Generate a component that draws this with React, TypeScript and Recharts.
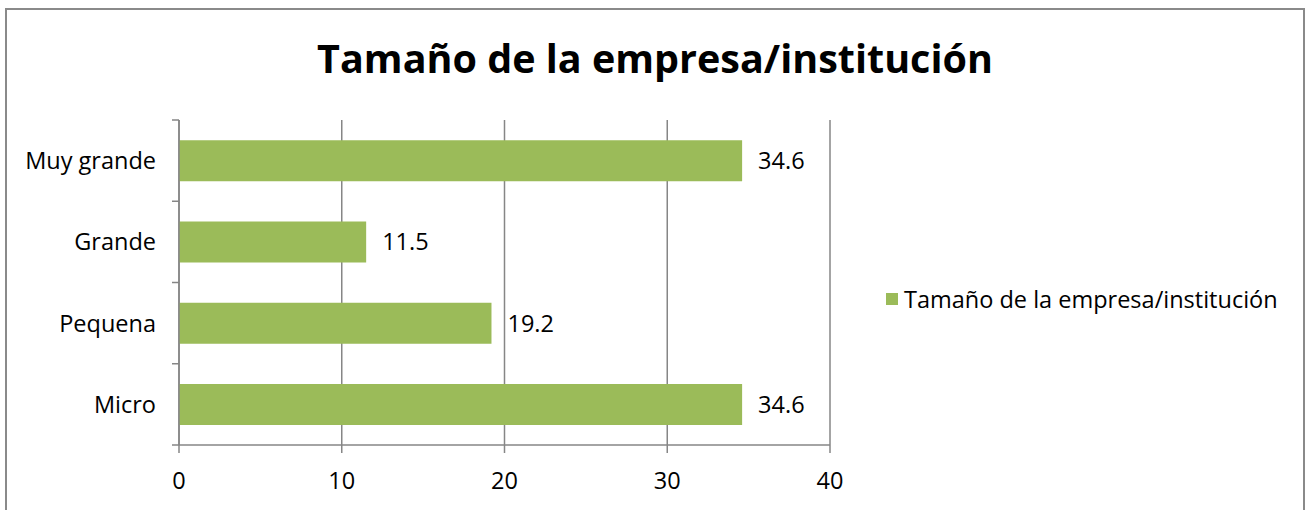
import React from 'react';
import { BarChart, Bar, XAxis, YAxis, CartesianGrid, Legend, LabelList } from 'recharts';

const categories = ['Muy grande', 'Grande', 'Pequena', 'Micro'];
const values = [34.6, 11.5, 19.2, 34.6];
const xTicks = [0, 10, 20, 30, 40];
const seriesName = 'Tamaño de la empresa/institución';
const titleText = 'Tamaño de la empresa/institución';

const data = categories.map((c, i) => ({ name: c, value: values[i] }));

const FONT = '"Open Sans", sans-serif';
const GRAY = '#868686';
const GREEN = '#9BBB59';
const Y_TICK_SIZE = 7;
const Y_TICK_MARGIN = 16;
const FS = 23.5;

const CategoryTick = (props: any) => {
  const { x, y, payload, index, visibleTicksCount } = props;
  const off = payload && payload.offset ? payload.offset : 0;
  const x1 = x + Y_TICK_MARGIN;
  const x2 = x1 + Y_TICK_SIZE;
  return (
    <g>
      <line x1={x1} x2={x2} y1={y - off} y2={y - off} stroke={GRAY} strokeWidth={1.5} />
      {index === visibleTicksCount - 1 ? (
        <line x1={x1} x2={x2} y1={y + off} y2={y + off} stroke={GRAY} strokeWidth={1.5} />
      ) : null}
      <text x={x} y={y} dy="0.36em" textAnchor="end" fontFamily={FONT} fontSize={FS} fill="#000">
        {payload.value}
      </text>
    </g>
  );
};

const LegendContent = (props: any) => {
  const { payload } = props;
  return (
    <div style={{ fontFamily: FONT, fontSize: FS, color: '#000', whiteSpace: 'nowrap' }}>
      {(payload || []).map((p: any, i: number) => (
        <div key={i} style={{ display: 'flex', alignItems: 'center' }}>
          <span style={{ display: 'inline-block', width: 12, height: 12, background: p.color, marginRight: 6 }} />
          <span>{p.value}</span>
        </div>
      ))}
    </div>
  );
};

export default function App() {
  return (
    <div style={{ position: 'absolute', left: 0, top: 0, width: 1311, height: 510, overflow: 'hidden', background: '#fff' }}>
      <div
        style={{
          position: 'absolute',
          left: 5,
          top: 8,
          width: 1300,
          height: 502,
          boxSizing: 'border-box',
          borderTop: '2px solid #8a8a8a',
          borderLeft: '2px solid #8a8a8a',
          borderRight: '2px solid #8a8a8a',
        }}
      />
      <div
        style={{
          position: 'absolute',
          left: 5,
          width: 1300,
          top: 32,
          textAlign: 'center',
          fontFamily: FONT,
          fontWeight: 700,
          fontSize: 39.5,
          lineHeight: '52px',
          color: '#000',
        }}
      >
        {titleText}
      </div>
      <div style={{ position: 'absolute', left: 0, top: 0 }}>
        <BarChart
          width={1311}
          height={510}
          layout="vertical"
          data={data}
          margin={{ top: 120, right: 481, bottom: 25, left: 9 }}
          barCategoryGap="25%"
        >
          <CartesianGrid horizontal={false} vertical={true} stroke={GRAY} strokeWidth={1.5} />
          <XAxis
            type="number"
            domain={[0, 40]}
            ticks={xTicks}
            interval={0}
            height={40}
            axisLine={{ stroke: GRAY, strokeWidth: 1.5 }}
            tickLine={{ stroke: GRAY, strokeWidth: 1.5 }}
            tickSize={8}
            tickMargin={19}
            tick={{ fontFamily: FONT, fontSize: FS, fill: '#000' }}
          />
          <YAxis
            type="category"
            dataKey="name"
            width={170}
            axisLine={{ stroke: GRAY, strokeWidth: 1.5 }}
            tickLine={false}
            tickSize={Y_TICK_SIZE}
            tickMargin={Y_TICK_MARGIN}
            interval={0}
            tick={<CategoryTick />}
          />
          <Legend
            layout="vertical"
            align="center"
            verticalAlign="middle"
            wrapperStyle={{ left: 886, top: 283, width: 420 }}
            content={<LegendContent />}
          />
          <Bar dataKey="value" name={seriesName} fill={GREEN} isAnimationActive={false}>
            <LabelList
              dataKey="value"
              position="right"
              offset={16}
              fontFamily={FONT}
              fontSize={FS}
              fill="#000"
            />
          </Bar>
        </BarChart>
      </div>
    </div>
  );
}
